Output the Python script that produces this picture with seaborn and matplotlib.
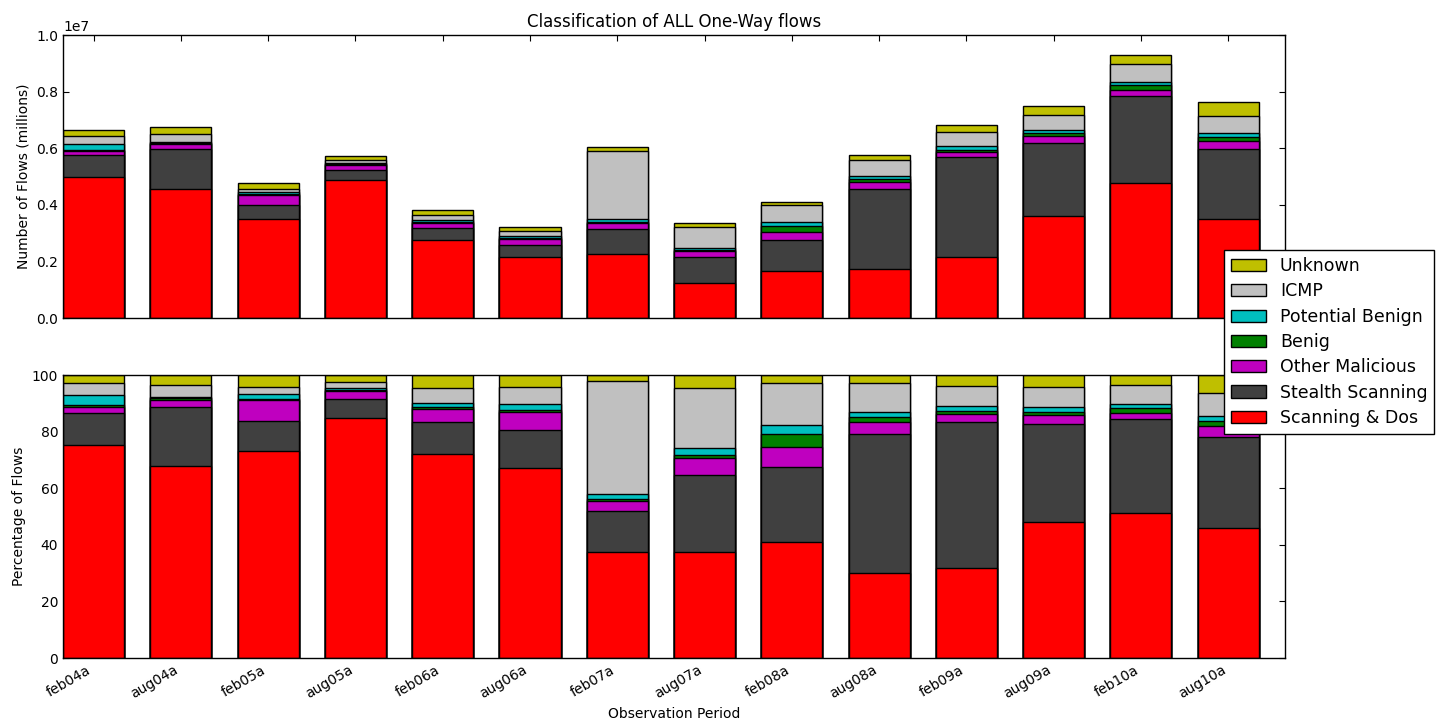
import numpy as np
import pandas as pd
import matplotlib
matplotlib.use("Agg")
import matplotlib.pyplot as plt
from matplotlib.patches import Patch
import seaborn as sns

# Periodos de observacion
periods = ["feb04a", "aug04a", "feb05a", "aug05a", "feb06a", "aug06a", "feb07a",
           "aug07a", "feb08a", "aug08a", "feb09a", "aug09a", "feb10a", "aug10a"]

# Total de flujos por periodo (millones)
total_millions = [6.63, 6.74, 4.77, 5.73, 3.83, 3.21, 6.04,
                  3.36, 4.10, 5.75, 6.82, 7.50, 9.30, 7.63]

# Porcentaje por categoria (de abajo hacia arriba)
scanning_dos = [75.3, 67.9, 73.2, 84.9, 72.0, 67.1, 37.6, 37.3, 40.9, 30.0, 31.8, 48.2, 51.2, 45.9]
stealth_scan = [11.4, 20.7, 10.4, 6.5, 11.5, 13.5, 14.4, 27.2, 26.7, 49.1, 51.5, 34.4, 33.3, 32.3]
other_malic = [2.1, 2.7, 7.7, 3.0, 4.5, 6.5, 3.5, 6.1, 6.9, 4.2, 2.8, 3.3, 2.2, 3.8]
benig = [0.6, 0.5, 0.3, 0.4, 0.6, 0.5, 0.7, 1.2, 4.6, 1.9, 1.2, 1.2, 1.8, 1.8]
potential_benign = [3.5, 0.6, 1.6, 0.5, 1.4, 2.3, 1.8, 2.3, 3.3, 1.9, 1.9, 1.5, 1.1, 1.8]
icmp = [4.2, 4.1, 2.4, 2.3, 5.3, 5.7, 39.9, 21.2, 14.9, 10.0, 7.0, 7.0, 6.9, 7.9]
unknown = [2.9, 3.5, 4.4, 2.4, 4.7, 4.4, 2.1, 4.7, 2.7, 2.9, 3.8, 4.4, 3.5, 6.5]

categories = ["Scanning & Dos", "Stealth Scanning", "Other Malicious", "Benig",
              "Potential Benign", "ICMP", "Unknown"]
colors = ["#ff0000", "#404040", "#bf00bf", "#008000", "#00bfbf", "#c0c0c0", "#bfbf00"]

pct = pd.DataFrame(
    np.array([scanning_dos, stealth_scan, other_malic, benig, potential_benign, icmp, unknown]).T,
    columns=categories, index=periods)
pct = pct.div(pct.sum(axis=1), axis=0) * 100
counts = pct.mul(np.array(total_millions) * 1e6, axis=0) / 100

sns.set_style("ticks")
plt.rcParams["font.family"] = ["DejaVu Sans"]
plt.rcParams.update({
    "xtick.direction": "in", "ytick.direction": "in",
    "xtick.top": True, "ytick.right": True,
    "xtick.major.size": 4, "ytick.major.size": 4,
    "axes.edgecolor": "black", "axes.linewidth": 1.0,
    "text.color": "black", "axes.labelcolor": "black",
    "xtick.color": "black", "ytick.color": "black",
    "font.size": 10,
})

fig = plt.figure(figsize=(14.42, 7.19), dpi=100)
ax1 = fig.add_axes([0.0437, 0.5577, 0.8474, 0.3936])
ax2 = fig.add_axes([0.0437, 0.0848, 0.8474, 0.3936])


def stacked(ax, data):
    cum = data.cumsum(axis=1)
    # dibujar de arriba hacia abajo para que las barras se superpongan
    for cat, col in reversed(list(zip(categories, colors))):
        sns.barplot(x=periods, y=cum[cat].values, color=col, ax=ax, width=0.7,
                    saturation=1, edgecolor="black", linewidth=1.0)
    ax.set_xlim(-0.35, 13.65)


stacked(ax1, counts)
ax1.set_ylim(0, 1e7)
ax1.set_yticks(np.arange(0, 1.01e7, 2e6))
ax1.set_xticklabels([])
ax1.set_ylabel("Number of Flows (millions)", fontsize=10)
ax1.set_title("Classification of ALL One-Way flows", fontsize=12)

stacked(ax2, pct)
ax2.set_ylim(0, 100)
ax2.set_yticks(range(0, 101, 20))
ax2.set_ylabel("Percentage of Flows", fontsize=10)
ax2.set_xlabel("Observation Period", fontsize=10)
for lab in ax2.get_xticklabels():
    lab.set_rotation(30)
    lab.set_ha("right")

for ax in (ax1, ax2):
    ax.tick_params(labelsize=10)
    for s in ax.spines.values():
        s.set_visible(True)

handles = [Patch(facecolor=c, edgecolor="black", label=l)
           for l, c in reversed(list(zip(categories, colors)))]
leg = fig.legend(handles=handles, loc="upper left", bbox_to_anchor=(0.849, 0.652),
                 fontsize=12.5, fancybox=False, frameon=True, borderaxespad=0,
                 labelspacing=0.42)
leg.get_frame().set_edgecolor("black")
leg.get_frame().set_alpha(1)

fig.savefig("out.png", dpi=100)
